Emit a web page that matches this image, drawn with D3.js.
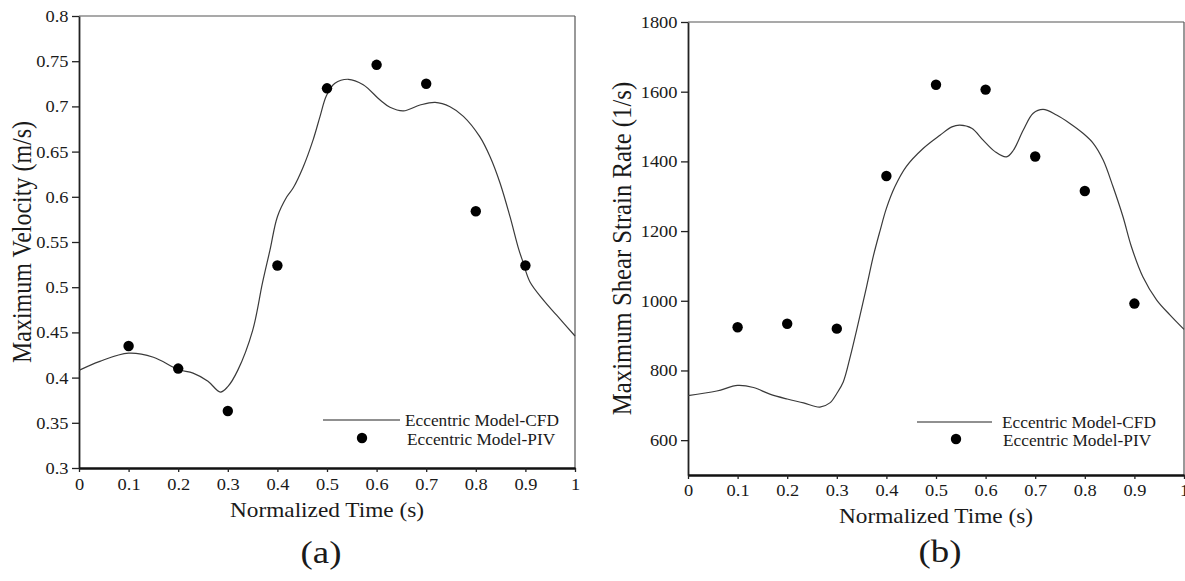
<!DOCTYPE html>
<html>
<head>
<meta charset="utf-8">
<script src="https://cdn.jsdelivr.net/npm/d3@7/dist/d3.min.js"></script>
<style>
  html, body { margin: 0; padding: 0; background: #fff; }
  svg { display: block; }
  text { font-family: "Liberation Serif", "Times New Roman", serif; fill: #1a1a1a; }
</style>
</head>
<body>
<svg id="chart" width="1185" height="581"></svg>
<script>
// ---------------- DATA ----------------
const xTickValues = [0, 0.1, 0.2, 0.3, 0.4, 0.5, 0.6, 0.7, 0.8, 0.9, 1];
const xTickLabels = ["0", "0.1", "0.2", "0.3", "0.4", "0.5", "0.6", "0.7", "0.8", "0.9", "1"];

// Panel (a): Maximum velocity
const velYTicks = [0.3, 0.35, 0.4, 0.45, 0.5, 0.55, 0.6, 0.65, 0.7, 0.75, 0.8];
const velYTickLabels = ["0.3", "0.35", "0.4", "0.45", "0.5", "0.55", "0.6", "0.65", "0.7", "0.75", "0.8"];
const velPivTime = [0.1, 0.2, 0.3, 0.4, 0.5, 0.6, 0.7, 0.8, 0.9];
const velPivValue = [0.435, 0.410, 0.363, 0.524, 0.720, 0.746, 0.725, 0.584, 0.524];
const velCfdTime = [0, 0.042, 0.1, 0.15, 0.2, 0.23, 0.26, 0.285, 0.3, 0.32, 0.35, 0.37, 0.385, 0.4,
  0.419, 0.432, 0.452, 0.472, 0.486, 0.499, 0.516, 0.543, 0.573, 0.607, 0.627, 0.654, 0.6875,
  0.718, 0.748, 0.775, 0.808, 0.829, 0.849, 0.869, 0.886, 0.895, 0.909, 0.936, 0.963, 1.0];
const velCfdValue = [0.408, 0.418, 0.427, 0.4225, 0.409, 0.405, 0.396, 0.384, 0.39, 0.408, 0.452, 0.505, 0.541, 0.578,
  0.600, 0.610, 0.633, 0.663, 0.689, 0.712, 0.7255, 0.730, 0.724, 0.707, 0.699, 0.695, 0.7015,
  0.7045, 0.6997, 0.689, 0.6665, 0.644, 0.615, 0.578, 0.543, 0.528, 0.506, 0.486, 0.469, 0.446];

// Panel (b): Maximum shear strain rate
const shearYTicks = [600, 800, 1000, 1200, 1400, 1600, 1800];
const shearYTickLabels = ["600", "800", "1000", "1200", "1400", "1600", "1800"];
const shearPivTime = [0.1, 0.2, 0.3, 0.4, 0.5, 0.6, 0.7, 0.8, 0.9];
const shearPivValue = [924, 934, 920, 1358, 1620, 1606, 1414, 1315, 992];
const shearCfdTime = [0, 0.058, 0.1, 0.132, 0.165, 0.2, 0.233, 0.266, 0.286, 0.3, 0.313, 0.327, 0.34, 0.36,
  0.374, 0.387, 0.4, 0.417, 0.44, 0.474, 0.508, 0.532, 0.548, 0.572, 0.595, 0.619, 0.642, 0.656,
  0.676, 0.696, 0.716, 0.743, 0.77, 0.797, 0.817, 0.837, 0.857, 0.877, 0.894, 0.917, 0.945, 0.972, 1.0];
const shearCfdValue = [728, 741, 757, 751, 732, 718, 707, 695, 707, 734, 767, 839, 916, 1040,
  1130, 1200, 1265, 1327, 1385, 1437, 1475, 1499, 1504, 1495, 1461, 1428, 1413, 1432,
  1490, 1538, 1549, 1533, 1509, 1480, 1452, 1404, 1327, 1241, 1155, 1069, 1002, 959, 918];

const legendLabels = ["Eccentric Model-CFD", "Eccentric Model-PIV"];
const xTitle = "Normalized Time (s)";

// ---------------- LAYOUT ----------------
const svg = d3.select("#chart");
const TICK_SX = 1.15;   // horizontal stretch of the original raster

function stretchedText(g, x, y, str, size, sx, anchor, rotate) {
  return g.append("text")
    .attr("transform", `translate(${x},${y}) scale(${sx},1)` + (rotate ? ` rotate(${rotate})` : ""))
    .attr("text-anchor", anchor || "start")
    .attr("font-size", size)
    .text(str);
}

function panel(cfg) {
  const g = svg.append("g");
  const x = d3.scaleLinear().domain([0, 1]).range([cfg.left, cfg.right]);
  const y = d3.scaleLinear().domain(cfg.yDomain).range([cfg.bottom, cfg.top]);

  // frame top/right
  g.append("line").attr("x1", cfg.left).attr("x2", cfg.right).attr("y1", cfg.top).attr("y2", cfg.top)
    .attr("stroke", "#555").attr("stroke-width", 1.2);
  g.append("line").attr("x1", cfg.right).attr("x2", cfg.right).attr("y1", cfg.top).attr("y2", cfg.bottom)
    .attr("stroke", "#555").attr("stroke-width", 1.2);

  // y axis
  const ya = g.append("g").attr("transform", `translate(${cfg.left},0)`)
    .call(d3.axisLeft(y).tickValues(cfg.yTicks).tickFormat((d, i) => cfg.yLabels[i]).tickSize(7).tickSizeOuter(0));
  ya.select(".domain").attr("stroke", "#222").attr("stroke-width", 1.8);
  ya.selectAll(".tick line").attr("stroke", "#222").attr("stroke-width", 1.3);
  ya.selectAll(".tick text")
    .attr("font-family", "Liberation Serif").attr("font-size", 16).attr("fill", "#1a1a1a")
    .attr("x", -10.5 / TICK_SX).attr("dy", "0.34em")
    .attr("transform", `scale(${TICK_SX},1)`);

  // x axis
  const xa = g.append("g").attr("transform", `translate(0,${cfg.bottom})`)
    .call(d3.axisBottom(x).tickValues(xTickValues).tickFormat((d, i) => xTickLabels[i]).tickSize(4).tickSizeOuter(0));
  xa.select(".domain").attr("stroke", "#111").attr("stroke-width", 2.4);
  xa.selectAll(".tick line").attr("stroke", "#222").attr("stroke-width", 1.3);
  xa.selectAll(".tick text")
    .attr("font-family", "Liberation Serif").attr("font-size", 16).attr("fill", "#1a1a1a")
    .attr("y", cfg.xLabelOffset).attr("dy", 0)
    .attr("transform", `scale(${TICK_SX},1)`);

  // CFD curve
  const line = d3.line().x(d => x(d[0])).y(d => y(d[1])).curve(d3.curveCatmullRom.alpha(0.5));
  const pts = cfg.cfdT.map((t, i) => [t, cfg.cfdV[i]]);
  g.append("path").attr("d", line(pts)).attr("fill", "none").attr("stroke", "#3a3a3a").attr("stroke-width", 1.2);

  // PIV dots
  g.selectAll("circle.piv").data(cfg.pivT.map((t, i) => [t, cfg.pivV[i]])).enter()
    .append("circle").attr("class", "piv")
    .attr("cx", d => x(d[0])).attr("cy", d => y(d[1])).attr("r", 5.2).attr("fill", "#000");

  // legend
  const L = cfg.legend;
  g.append("line").attr("x1", L.x1).attr("x2", L.x2).attr("y1", L.y1).attr("y2", L.y1)
    .attr("stroke", "#222").attr("stroke-width", 1.2);
  stretchedText(g, L.tx1, L.y1 + 5.5, legendLabels[0], 16, 1.08, "start");
  g.append("circle").attr("cx", L.dotX).attr("cy", L.y2).attr("r", 5.2).attr("fill", "#000");
  stretchedText(g, L.tx2, L.y2 + 6.5, legendLabels[1], 16, 1.08, "start");

  // titles
  stretchedText(g, (cfg.left + cfg.right) / 2, cfg.xTitleY, xTitle, 21, 1.11, "middle");
  stretchedText(g, cfg.yTitleX, (cfg.top + cfg.bottom) / 2, cfg.yTitle, cfg.yTitleSize, 1.1, "middle", -90);
  stretchedText(g, cfg.tagX, cfg.tagY, cfg.tag, 32, 1.15, "middle");
}

panel({
  left: 79, right: 575, top: 16, bottom: 468,
  yDomain: [0.3, 0.8], yTicks: velYTicks, yLabels: velYTickLabels,
  pivT: velPivTime, pivV: velPivValue, cfdT: velCfdTime, cfdV: velCfdValue,
  xLabelOffset: 22, xTitleY: 517,
  yTitle: "Maximum Velocity (m/s)", yTitleX: 31, yTitleSize: 24,
  tag: "(a)", tagX: 321, tagY: 563,
  legend: { x1: 323, x2: 400, y1: 420, tx1: 405, dotX: 362, y2: 438, tx2: 407 }
});

panel({
  left: 688, right: 1184, top: 22, bottom: 475,
  yDomain: [500, 1800], yTicks: shearYTicks, yLabels: shearYTickLabels,
  pivT: shearPivTime, pivV: shearPivValue, cfdT: shearCfdTime, cfdV: shearCfdValue,
  xLabelOffset: 21, xTitleY: 523,
  yTitle: "Maximum Shear Strain Rate (1/s)", yTitleX: 631, yTitleSize: 24.7,
  tag: "(b)", tagX: 940, tagY: 562,
  legend: { x1: 917, x2: 992, y1: 422, tx1: 1002, dotX: 956, y2: 439, tx2: 1003 }
});
</script>
</body>
</html>
